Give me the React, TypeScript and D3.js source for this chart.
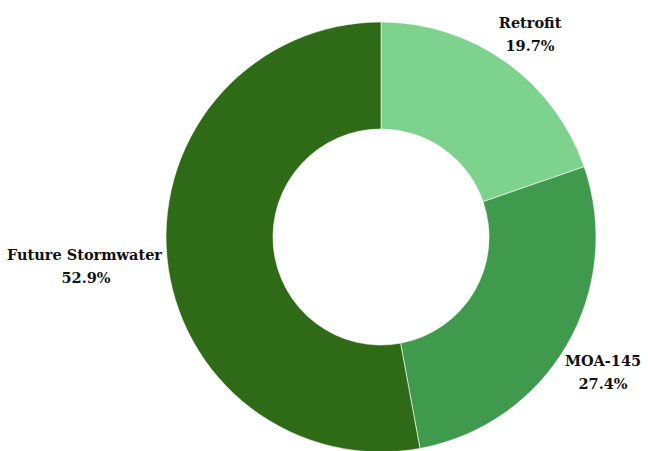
import React from "react";
import * as d3 from "d3";

const categories = ["Retrofit", "MOA-145", "Future Stormwater"];
const values = [19.7, 27.4, 52.9];
const colors = ["#7dd28d", "#3f9a4e", "#2f6b16"];

export default function App() {
  const W = 648, H = 451;
  const cx = 381, cy = 237, outer = 215, inner = 108;
  const pie = d3.pie<number>().sort(null).value((d) => d);
  const arcs = pie(values);
  const arc = d3.arc<d3.PieArcDatum<number>>().innerRadius(inner).outerRadius(outer);
  const fs = 14.5;
  return (
    <svg width={W} height={H} style={{ position: "absolute", left: 0, top: 0 }}>
      <g transform={`translate(${cx},${cy})`}>
        {arcs.map((a, i) => (
          <path key={i} d={arc(a) || ""} fill={colors[i]} stroke="#fff" strokeWidth={0.6} />
        ))}
        {arcs.map((a, i) => {
          const mid = (a.startAngle + a.endAngle) / 2;
          const s = Math.sin(mid), c = -Math.cos(mid);
          let x = s * (outer + 42);
          let y = c * (outer + 42);
          let x2 = x;
          let side = false;
          if (Math.abs(s) > 0.95) {
            side = true;
            x = -(outer + 4);
            y = c * (outer + 6) + 3;
            x2 = x - 76;
          }
          return (
            <text key={i}
              fontFamily="'DejaVu Serif', serif" fontWeight="bold" fontSize={fs} fill="#111">
              <tspan x={x} y={y} textAnchor={side ? "end" : "middle"}>{categories[i]}</tspan>
              <tspan x={x2} y={y + 23} textAnchor="middle">{values[i].toFixed(1)}%</tspan>
            </text>
          );
        })}
      </g>
    </svg>
  );
}
